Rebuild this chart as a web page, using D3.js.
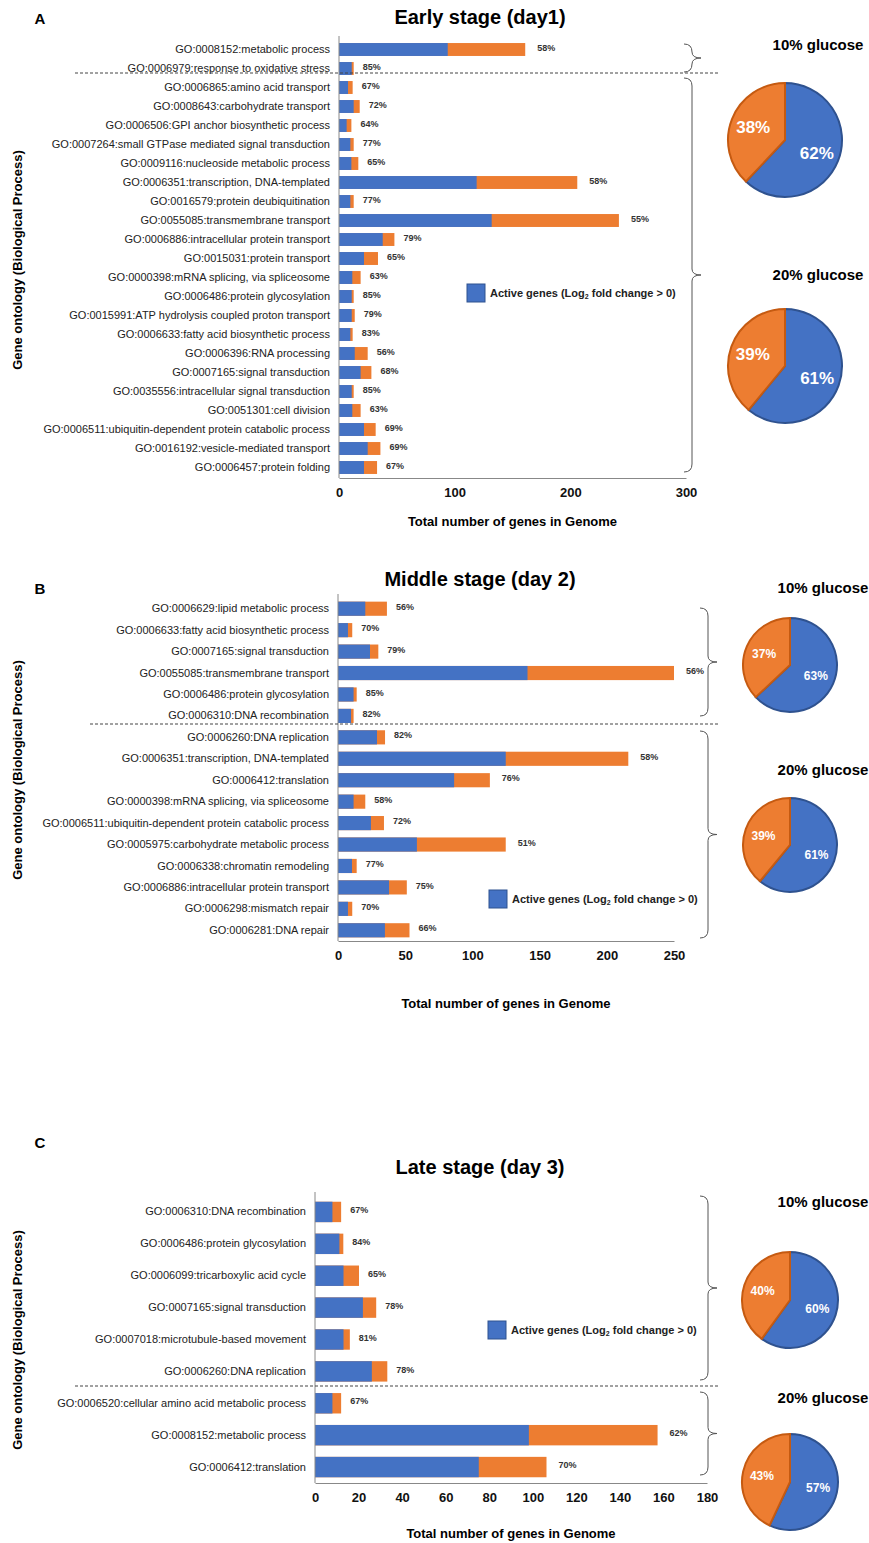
<!DOCTYPE html>
<html><head><meta charset="utf-8">
<script src="https://cdn.jsdelivr.net/npm/d3@7"></script>
<style>body{margin:0;background:#fff}svg{font-family:"Liberation Sans",Arial,sans-serif}</style>
</head><body><svg id="c" width="869" height="1543"></svg>
<script>
// Panel A
const termsA = ["GO:0008152:metabolic process","GO:0006979:response to oxidative stress","GO:0006865:amino acid transport","GO:0008643:carbohydrate transport","GO:0006506:GPI anchor biosynthetic process","GO:0007264:small GTPase mediated signal transduction","GO:0009116:nucleoside metabolic process","GO:0006351:transcription, DNA-templated","GO:0016579:protein deubiquitination","GO:0055085:transmembrane transport","GO:0006886:intracellular protein transport","GO:0015031:protein transport","GO:0000398:mRNA splicing, via spliceosome","GO:0006486:protein glycosylation","GO:0015991:ATP hydrolysis coupled proton transport","GO:0006633:fatty acid biosynthetic process","GO:0006396:RNA processing","GO:0007165:signal transduction","GO:0035556:intracellular signal transduction","GO:0051301:cell division","GO:0006511:ubiquitin-dependent protein catabolic process","GO:0016192:vesicle-mediated transport","GO:0006457:protein folding"];
const activeA = [94,11,7.8,12.7,6.6,9.8,10.7,119,9.8,132,37.8,21.6,11.5,11,11,9.8,13.6,18.7,11,11.5,21.6,24.8,21.6];
const totalA = [161,12.7,11.8,17.9,10.7,12.7,16.7,206,12.7,242,47.9,33.7,18.7,12.7,13.6,11.8,24.8,28,12.7,18.7,31.7,35.8,32.9];
const pctA = ["58%","85%","67%","72%","64%","77%","65%","58%","77%","55%","79%","65%","63%","85%","79%","83%","56%","68%","85%","63%","69%","69%","67%"];
const pieA = [62,61];
// Panel B
const termsB = ["GO:0006629:lipid metabolic process","GO:0006633:fatty acid biosynthetic process","GO:0007165:signal transduction","GO:0055085:transmembrane transport","GO:0006486:protein glycosylation","GO:0006310:DNA recombination","GO:0006260:DNA replication","GO:0006351:transcription, DNA-templated","GO:0006412:translation","GO:0000398:mRNA splicing, via spliceosome","GO:0006511:ubiquitin-dependent protein catabolic process","GO:0005975:carbohydrate metabolic process","GO:0006338:chromatin remodeling","GO:0006886:intracellular protein transport","GO:0006298:mismatch repair","GO:0006281:DNA repair"];
const activeB = [20.3,7.4,23.8,141,11.6,9.7,29,124.8,86.4,11.6,24.5,58.7,10.4,38,7.4,34.9];
const totalB = [36.4,10.6,30,250,13.9,11.6,35,216,113,20.3,34.2,124.8,13.9,51.2,10.6,53.2];
const pctB = ["56%","70%","79%","56%","85%","82%","82%","58%","76%","58%","72%","51%","77%","75%","70%","66%"];
const pieB = [63,61];
// Panel C
const termsC = ["GO:0006310:DNA recombination","GO:0006486:protein glycosylation","GO:0006099:tricarboxylic acid cycle","GO:0007165:signal transduction","GO:0007018:microtubule-based movement","GO:0006260:DNA replication","GO:0006520:cellular amino acid metabolic process","GO:0008152:metabolic process","GO:0006412:translation"];
const activeC = [8,11.2,13.1,22,13.1,26.1,8,98.2,75.2];
const totalC = [12,13,20.2,28.1,16,33.2,12,157.3,106.3];
const pctC = ["67%","84%","65%","78%","81%","78%","67%","62%","70%"];
const pieC = [60,57];

const BLUE="#4472C4", ORANGE="#ED7D31";
const svg = d3.select("#c");

function brace(g, x, y1, y2, tip){
  const ym=(y1+y2)/2, w=8;
  g.append("path").attr("fill","none").attr("stroke","#555").attr("stroke-width",1)
   .attr("d",`M${x},${y1} Q${x+w},${y1} ${x+w},${y1+8} L${x+w},${ym-6} Q${x+w},${ym} ${x+w+tip},${ym} Q${x+w},${ym} ${x+w},${ym+6} L${x+w},${y2-8} Q${x+w},${y2} ${x},${y2}`);
}

function pie(g, cx, cy, r, v, fs, title, ty){
  g.append("text").attr("x",cx+33).attr("y",ty).attr("text-anchor","middle")
   .attr("font-size",15).attr("font-weight","bold").text(title);
  const data=[{v:v,c:BLUE,s:"#2F528F"},{v:100-v,c:ORANGE,s:"#C55A11"}];
  const arcs=d3.pie().sort(null).value(d=>d.v)(data);
  const arc=d3.arc().innerRadius(0).outerRadius(r);
  const pg=g.append("g").attr("transform",`translate(${cx},${cy})`);
  pg.selectAll("path").data(arcs).join("path").attr("d",arc)
    .attr("fill",d=>d.data.c).attr("stroke",d=>d.data.s).attr("stroke-width",2);
  const la=d3.arc().innerRadius(r*0.6).outerRadius(r*0.6);
  pg.selectAll("text").data(arcs).join("text")
    .attr("transform",d=>`translate(${la.centroid(d)})`)
    .attr("text-anchor","middle").attr("dy","0.35em").attr("fill","#fff")
    .attr("font-size",fs).attr("font-weight","bold").text(d=>d.data.v+"%");
}

function panel(o){
  const g=svg.append("g");
  g.append("text").attr("x",40).attr("y",o.letterY).attr("text-anchor","middle")
   .attr("font-size",15).attr("font-weight","bold").text(o.letter);
  g.append("text").attr("x",o.titleX).attr("y",o.titleY).attr("text-anchor","middle")
   .attr("font-size",20).attr("font-weight","bold").text(o.title);
  const x=d3.scaleLinear().domain([0,o.max]).range([o.x0,o.x1]);
  const y=d3.scaleBand().domain(o.terms).range([o.yTop,o.yBot]).paddingInner(o.pad).paddingOuter(o.pad/2);
  const rows=g.selectAll(".row").data(o.terms).join("g");
  rows.append("rect").attr("x",x(0)).attr("y",d=>y(d)).attr("height",y.bandwidth())
    .attr("width",(d,i)=>x(o.total[i])-x(0)).attr("fill",ORANGE);
  rows.append("rect").attr("x",x(0)).attr("y",d=>y(d)).attr("height",y.bandwidth())
    .attr("width",(d,i)=>x(o.active[i])-x(0)).attr("fill",BLUE);
  rows.append("text").attr("x",(d,i)=>x(o.total[i])+(o.total[i]>100?12:9)).attr("y",d=>y(d)+y.bandwidth()/2-2)
    .attr("dy","0.35em").attr("font-size",9).attr("font-weight","bold").attr("fill","#333").text((d,i)=>o.pct[i]);
  const ax=g.append("g").attr("transform",`translate(0,${o.axisY})`)
    .call(d3.axisBottom(x).tickValues(o.ticks).tickSize(0).tickPadding(10));
  ax.select(".domain").attr("stroke","#888");
  ax.selectAll("text").attr("font-size",13).attr("font-weight","bold").attr("fill","#111");
  const ya=g.append("g").attr("transform",`translate(${o.x0},0)`)
    .call(d3.axisLeft(y).tickSize(0).tickPadding(9));
  ya.select(".domain").attr("stroke","#888").attr("d",`M0,${o.yTop-4}V${o.axisY}`);
  ya.selectAll("text").attr("font-size",11).attr("fill","#222").attr("font-family","Liberation Sans, Arial, sans-serif");
  g.append("text").attr("x",(o.x0+o.x1)/2).attr("y",o.xtY).attr("text-anchor","middle")
   .attr("font-size",13).attr("font-weight","bold").text("Total number of genes in Genome");
  g.append("text").attr("transform",`translate(22,${o.ylY}) rotate(-90)`).attr("text-anchor","middle")
   .attr("font-size",13).attr("font-weight","bold").text("Gene ontology (Biological Process)");
  g.append("line").attr("x1",o.dashX1).attr("x2",718).attr("y1",o.dashY).attr("y2",o.dashY)
   .attr("stroke","#444").attr("stroke-dasharray","3,2");
  brace(g,o.braceX,o.b1[0],o.b1[1],9);
  brace(g,o.braceX,o.b2[0],o.b2[1],9);
  g.append("rect").attr("x",o.legX).attr("y",o.legY).attr("width",18).attr("height",18)
   .attr("fill",BLUE).attr("stroke","#2F528F");
  const lt=g.append("text").attr("x",o.legX+23).attr("y",o.legY+13).attr("font-size",11).attr("font-weight","bold").attr("fill","#222");
  lt.append("tspan").text("Active genes  (Log");
  lt.append("tspan").attr("font-size",7).attr("dy",2).text("2");
  lt.append("tspan").attr("dy",-2).text(" fold change > 0)");
  pie(g,o.pieX,o.p1y,o.pr,o.pie[0],o.pfs,"10% glucose",o.t1y);
  pie(g,o.pieX,o.p2y,o.pr,o.pie[1],o.pfs,"20% glucose",o.t2y);
}

panel({letter:"A",letterY:24,title:"Early stage (day1)",titleX:480,titleY:24,terms:termsA,active:activeA,total:totalA,pct:pctA,
  max:300,ticks:[0,100,200,300],x0:339,x1:686,yTop:40,yBot:477,pad:0.32,axisY:478,xtY:526,ylY:260,
  dashX1:75,dashY:73,braceX:684,b1:[44,72],b2:[78,472],legX:467,legY:284,
  pie:pieA,pieX:785,pr:57,pfs:17,p1y:140,p2y:366,t1y:50,t2y:280});
panel({letter:"B",letterY:594,title:"Middle stage (day 2)",titleX:480,titleY:586,terms:termsB,active:activeB,total:totalB,pct:pctB,
  max:250,ticks:[0,50,100,150,200,250],x0:338,x1:674,yTop:598,yBot:941,pad:0.34,axisY:941,xtY:1008,ylY:770,
  dashX1:90,dashY:724,braceX:700,b1:[608,716],b2:[731,938],legX:489,legY:890,
  pie:pieB,pieX:790,pr:47,pfs:12,p1y:665,p2y:845,t1y:593,t2y:775});
panel({letter:"C",letterY:1148,title:"Late stage (day 3)",titleX:480,titleY:1174,terms:termsC,active:activeC,total:totalC,pct:pctC,
  max:180,ticks:[0,20,40,60,80,100,120,140,160,180],x0:315,x1:707,yTop:1196,yBot:1483,pad:0.36,axisY:1483,xtY:1538,ylY:1340,
  dashX1:75,dashY:1386,braceX:700,b1:[1196,1380],b2:[1392,1475],legX:488,legY:1321,
  pie:pieC,pieX:790,pr:48,pfs:12,p1y:1300,p2y:1482,t1y:1207,t2y:1403});
</script></body></html>
